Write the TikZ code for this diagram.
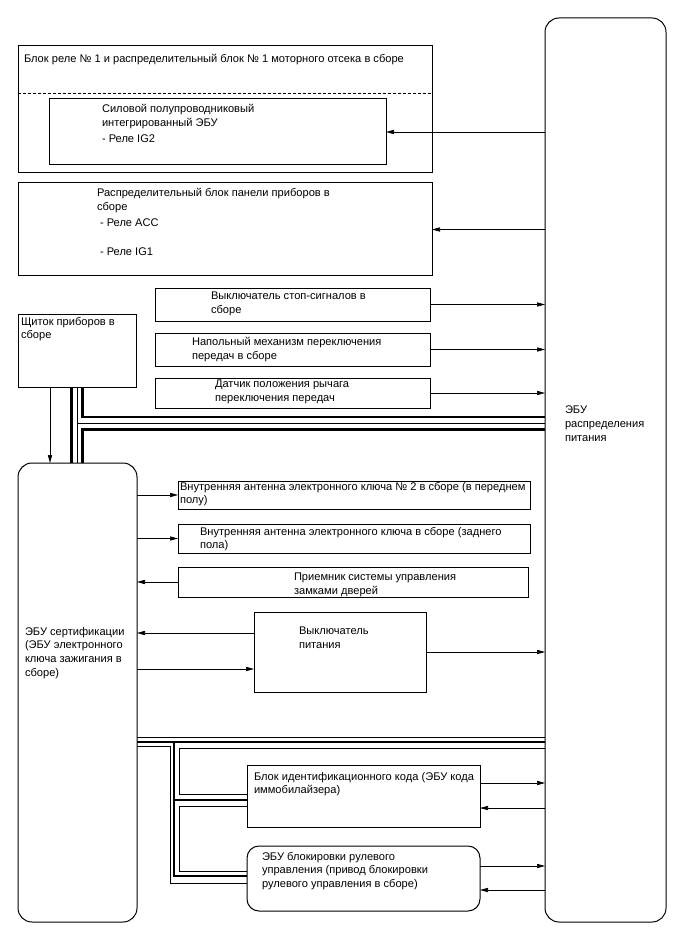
\documentclass[tikz,border=0pt]{standalone}
\usepackage{fontspec}
\setmainfont{Liberation Sans}
\usetikzlibrary{arrows.meta}
\begin{document}
\begin{tikzpicture}[x=1pt,y=-1pt,
 box/.style={draw, line width=1pt, inner sep=0pt, outer sep=0pt, anchor=north west},
 rbox/.style={box, rounded corners=14pt},
 txt/.style={anchor=north west, inner sep=0pt, outer sep=0pt, align=left, font=\fontsize{11.1}{13.8}\selectfont},
 arr/.style={line width=0.7pt, -{Triangle[length=8pt,width=4.2pt]}},
 thk/.style={line width=2.6pt},
 thn/.style={line width=0.8pt}]
\useasboundingbox (0,0) rectangle (688,949);

% ---------- boxes ----------
\node[rbox, minimum width=121pt, minimum height=904pt] (pwr) at (545,18) {};
\node[txt] (pwrt) at (565,406) {ЭБУ\\распределения\\питания};

\node[box, minimum width=414pt, minimum height=127pt] (b1) at (18,46) {};
\node[txt] (b1t) at (24,54) {Блок реле № 1 и распределительный блок № 1 моторного отсека в сборе};
\draw[dashed, line width=0.8pt, dash pattern=on 3pt off 2pt] (b1.west |- 0,93) coordinate (dl) -- (dl -| b1.east) coordinate (dr);
\node[box, minimum width=337pt, minimum height=66pt] (b1i) at (49,99) {};
\node[txt] (b1it) at (102,104) {Силовой полупроводниковый\\интегрированный ЭБУ\\[3pt]- Реле IG2};

\node[box, minimum width=414pt, minimum height=93pt] (b2) at (18,183) {};
\node[txt] (b2t) at (97,188) {Распределительный блок панели приборов в\\[0.5pt]сборе\\[2pt]\hspace*{3pt}- Реле ACC\\[15pt]\hspace*{3pt}- Реле IG1};

\node[box, minimum width=275pt, minimum height=33pt] (stop) at (155,288) {};
\node[txt] (stopt) at (211,292) {Выключатель стоп-сигналов в\\сборе};
\node[box, minimum width=275pt, minimum height=33pt] (shift) at (155,333) {};
\node[txt] (shiftt) at (192,337) {Напольный механизм переключения\\передач в сборе};
\node[box, minimum width=275pt, minimum height=30pt] (lever) at (155,378) {};
\node[txt] (levert) at (215,380) {Датчик положения рычага\\переключения передач};

\node[box, minimum width=118pt, minimum height=73pt] (dash) at (18,314) {};
\node[txt] (dasht) at (21,317) {Щиток приборов в\\сборе};

\node[rbox, minimum width=119pt, minimum height=459pt] (cert) at (18,463) {};
\node[txt] (certt) at (25,627) {ЭБУ сертификации\\(ЭБУ электронного\\ключа зажигания в\\сборе)};

\node[box, minimum width=352pt, minimum height=28pt] (ant2) at (178,481) {};
\node[txt] (ant2t) at (180,482) {Внутренняя антенна электронного ключа № 2 в сборе (в переднем\\полу)};
\node[box, minimum width=352pt, minimum height=29pt] (ant1) at (178,524) {};
\node[txt] (ant1t) at (200,527) {Внутренняя антенна электронного ключа в сборе (заднего\\пола)};
\node[box, minimum width=350pt, minimum height=30pt] (recv) at (178,567) {};
\node[txt] (recvt) at (294,573) {Приемник системы управления\\замками дверей};
\node[box, minimum width=172pt, minimum height=80pt] (psw) at (254,612) {};
\node[txt] (pswt) at (299,627) {Выключатель\\питания};

\node[box, minimum width=233pt, minimum height=62pt] (idc) at (247,765) {};
\node[txt] (idct) at (254,772) {Блок идентификационного кода (ЭБУ кода\\иммобилайзера)};
\node[box, rounded corners=12pt, minimum width=233pt, minimum height=65pt] (steer) at (247,846) {};
\node[txt] (steert) at (262,852) {ЭБУ блокировки рулевого\\управления (привод блокировки\\рулевого управления в сборе)};

% ---------- arrows ----------
\draw[arr] (b1i.east -| pwr.west) -- (b1i.east);
\draw[arr] (b2.east -| pwr.west) -- (b2.east);
\draw[arr] (stop.east) -- (stop.east -| pwr.west);
\draw[arr] (shift.east) -- (shift.east -| pwr.west);
\draw[arr] (lever.east) -- (lever.east -| pwr.west);
\draw[arr] (dash.south -| 50,0) coordinate (da) -- (da |- cert.north);

\draw[arr] (ant2.west -| cert.east) -- (ant2.west);
\draw[arr] (ant1.west -| cert.east) -- (ant1.west);
\draw[arr] (recv.west) -- (recv.west -| cert.east);
\draw[arr] ([yshift=19pt]psw.west) coordinate (p1) -- (p1 -| cert.east);
\draw[arr] ([yshift=-17pt]psw.west -| cert.east) coordinate (p2) -- (p2 -| psw.west);
\draw[arr] (psw.east) -- (psw.east -| pwr.west);

\draw[arr] ([yshift=13pt]idc.east) coordinate (i1) -- (i1 -| pwr.west);
\draw[arr] ([yshift=-12pt]idc.east -| pwr.west) coordinate (i2) -- (i2 -| idc.east);
\draw[arr] ([yshift=12.5pt]steer.east) coordinate (s1) -- (s1 -| pwr.west);
\draw[arr] ([yshift=-11.5pt]steer.east -| pwr.west) coordinate (s2) -- (s2 -| steer.east);

% ---------- upper bus ----------
\coordinate (ta) at (71.5,417);
\coordinate (tb) at (77,423);
\coordinate (tc) at (82.5,417);
\coordinate (td) at (82.5,429.5);
\draw[thk] (ta |- dash.south) -- (ta |- cert.north);
\draw[thn] (tb |- dash.south) -- (tb |- cert.north);
\draw[thn] (tb) -- (tb -| pwr.west);
\draw[thk] (tc |- dash.south) -- (tc) -- (tc -| pwr.west);
\draw[thk] (td -| pwr.west) -- (td) -- (td |- cert.north);

% ---------- lower bus ----------
\coordinate (la) at (137,737);
\coordinate (lb) at (174,742);
\coordinate (lc) at (170,746);
\coordinate (ld) at (179,748);
\draw[thn] (la -| cert.east) -- (la -| pwr.west);
\draw[thk] (lb -| cert.east) -- (lb -| pwr.west);
\draw[thk] (lb) -- (174,876) coordinate (lb2) -- (lb2 -| steer.west);
\draw[thk] (174,800) coordinate (lb1) -- (lb1 -| idc.west);
\draw[thn] (lc -| cert.east) -- (lc) -- (170,883) coordinate (lc2) -- (lc2 -| steer.west);
\draw[thn] (ld -| pwr.west) -- (ld) -- (179,794) coordinate (ld2) -- (ld2 -| idc.west);
\draw[thn] (179,806) coordinate (le1) -- (le1 -| idc.west);
\draw[thn] (le1) -- (179,871) coordinate (le2) -- (le2 -| steer.west);
\end{tikzpicture}
\end{document}
